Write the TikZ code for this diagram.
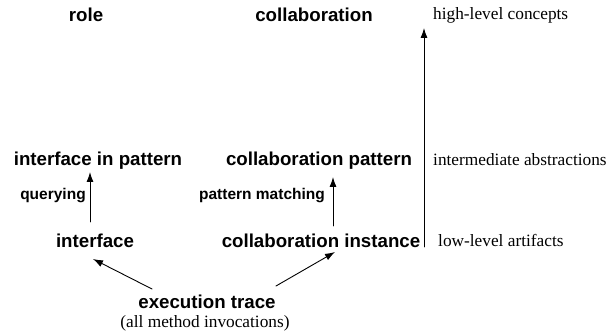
\documentclass[tikz,border=0pt]{standalone}
\usepackage{fontspec}
\setmainfont{Liberation Serif}
\setsansfont{Liberation Sans}
\usetikzlibrary{arrows.meta}
\begin{document}
\begin{tikzpicture}[x=1pt,y=-1pt,line cap=round,line join=round,
  level/.style={font=\sffamily\bfseries\fontsize{18.7}{22}\selectfont,anchor=base,inner sep=0pt},
  action/.style={font=\sffamily\bfseries\fontsize{15.5}{18}\selectfont,anchor=base,inner sep=0pt},
  note/.style={font=\fontsize{17.3}{20}\selectfont,anchor=base west,inner sep=0pt},
  arr/.style={line width=0.9pt,-{Latex[length=10pt,width=7pt]}}]
\useasboundingbox (0,0) rectangle (614,336);
\node[level] (role) at (86,22) {role};
\node[level] (collab) at (314,22) {collaboration};
\node[level] (ipat) at (98,166) {interface in pattern};
\node[level] (cpat) at (319,166) {collaboration pattern};
\node[level] (iface) at (95,248) {interface};
\node[level] (inst) at (321,248) {collaboration instance};
\node[level] (trace) at (207,309) {execution trace};
\node[font=\fontsize{17.3}{20}\selectfont,anchor=base,inner sep=0pt] (calls) at (205,328) {(all method invocations)};
\node[action] (query) at (53,200) {querying};
\node[action] (match) at (262,200) {pattern matching};
\node[note] (high) at (433,20) {high-level concepts};
\node[note] (mid) at (433,166) {intermediate abstractions};
\node[note] (low) at (438,247) {low-level artifacts};
\coordinate (axbot) at (424,247);
\coordinate (axtop) at (424,28);
\draw[arr] ([shift={(-5pt,26pt)}]iface.base) -- ([shift={(-8pt,-6pt)}]ipat.base);
\draw[arr] ([shift={(12pt,22pt)}]inst.base) -- ([shift={(14pt,-11pt)}]cpat.base);
\draw[arr] ([shift={(-55pt,20pt)}]trace.base) -- ([shift={(-2pt,-11pt)}]iface.base);
\draw[arr] ([shift={(69pt,23pt)}]trace.base) -- ([shift={(14pt,-4pt)}]inst.base);
\draw[arr] (axbot) -- (axtop);
\end{tikzpicture}
\end{document}
